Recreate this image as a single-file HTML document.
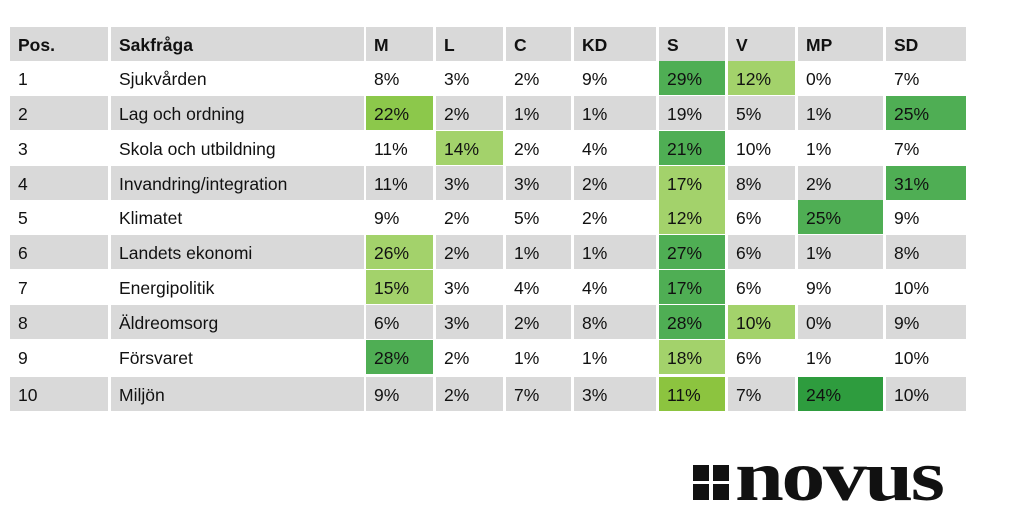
<!DOCTYPE html>
<html><head><meta charset="utf-8"><style>
body{margin:0;width:1024px;height:526px;background:#fff;position:relative;overflow:hidden;font-family:"Liberation Sans",Arial,sans-serif;}
.c{position:absolute;font-size:17.5px;color:#111;box-sizing:border-box;padding-left:8px;padding-top:3px;display:flex;align-items:center;}
.h{font-weight:bold;}
.sq{position:absolute;width:16px;height:16px;background:#111;}
.nv{position:absolute;left:735px;top:440px;font-family:"Liberation Serif",serif;font-weight:bold;font-size:72px;line-height:72px;color:#111;transform-origin:0 0;transform:scaleX(1.22);letter-spacing:-2px;}
</style></head><body>
<div id="t"></div>
<div class="sq" style="left:693px;top:465px"></div><div class="sq" style="left:713px;top:465px"></div>
<div class="sq" style="left:693px;top:484px"></div><div class="sq" style="left:713px;top:484px"></div>
<div class="nv">novus</div>
<script>
var cols=[[10,98],[111,253],[366,67],[436,67],[506,65],[574,82],[659,66],[728,67],[798,85],[886,80]];
var tops=[27,61,96,131,166,200,235,270,305,340,377];
var data=[["Pos.","Sakfråga","M","L","C","KD","S","V","MP","SD"],
["1","Sjukvården","8%","3%","2%","9%","29%","12%","0%","7%"],
["2","Lag och ordning","22%","2%","1%","1%","19%","5%","1%","25%"],
["3","Skola och utbildning","11%","14%","2%","4%","21%","10%","1%","7%"],
["4","Invandring/integration","11%","3%","3%","2%","17%","8%","2%","31%"],
["5","Klimatet","9%","2%","5%","2%","12%","6%","25%","9%"],
["6","Landets ekonomi","26%","2%","1%","1%","27%","6%","1%","8%"],
["7","Energipolitik","15%","3%","4%","4%","17%","6%","9%","10%"],
["8","Äldreomsorg","6%","3%","2%","8%","28%","10%","0%","9%"],
["9","Försvaret","28%","2%","1%","1%","18%","6%","1%","10%"],
["10","Miljön","9%","2%","7%","3%","11%","7%","24%","10%"]];
var L="#a3d26b",D="#4fae54",M="#8cc84b";
var g={"1,6":D,"1,7":L,"2,2":M,"2,9":D,"3,3":L,"3,6":D,"4,6":L,"4,9":D,"5,6":L,"5,8":D,"6,2":L,"6,6":D,"7,2":L,"7,6":D,"8,6":D,"8,7":L,"9,2":D,"9,6":L,"10,6":"#8cc43f","10,8":"#2e9c3e"};
var h="";
for(var r=0;r<11;r++)for(var c=0;c<10;c++){
 var bg=g[r+","+c]||((r%2==0)?"#d9d9d9":"#fff");
 h+='<div class="c'+(r==0?' h':'')+'" style="left:'+cols[c][0]+'px;top:'+tops[r]+'px;width:'+cols[c][1]+'px;height:34px;background:'+bg+'">'+data[r][c]+'</div>';
}
document.getElementById("t").innerHTML=h;
</script>
</body></html>
